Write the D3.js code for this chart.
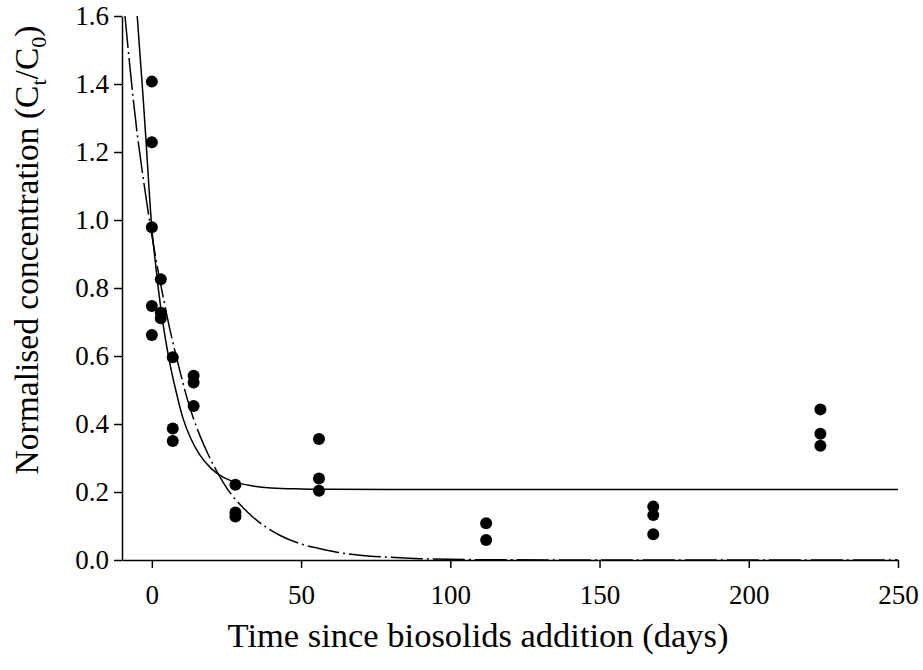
<!DOCTYPE html>
<html>
<head>
<meta charset="utf-8">
<script src="https://cdn.jsdelivr.net/npm/d3@7"></script>
<style>
  body { margin: 0; background: #fff; }
  svg text { font-family: "Liberation Serif", "Times New Roman", serif; fill: #000; }
</style>
</head>
<body>
<div id="chart"></div>
<script>
// measured concentrations (days since addition, Ct/C0)
const sampleDays = [0, 0, 0, 0, 0, 3, 3, 3, 7, 7, 7, 14, 14, 14, 28, 28, 28, 56, 56, 56, 112, 112, 168, 168, 168, 224, 224, 224];
const sampleConc = [1.407, 1.229, 0.979, 0.747, 0.662, 0.826, 0.727, 0.711, 0.596, 0.387, 0.350, 0.542, 0.522, 0.453, 0.221, 0.140, 0.128, 0.356, 0.240, 0.204, 0.108, 0.059, 0.157, 0.132, 0.076, 0.443, 0.371, 0.336];

// fitted curve with plateau (solid)
const solidDays = [-4.9, -4, -3, -2, -1, 0, 1, 2, 3, 4, 6, 8, 10.5, 13, 16, 20, 24, 28, 33, 40, 50, 60, 80, 250];
const solidConc = [1.60, 1.49, 1.37, 1.24, 1.10, 0.975, 0.89, 0.81, 0.74, 0.68, 0.58, 0.50, 0.415, 0.358, 0.31, 0.268, 0.243, 0.229, 0.219, 0.212, 0.209, 0.208, 0.207, 0.207];

// fitted curve decaying to zero (dashed)
const dashDays = [-9, -7, -5, -3, -1, 0, 2, 4, 6, 8, 10, 12, 14, 16, 19, 22, 25, 28, 31, 34, 38, 43, 50, 56, 62, 69, 80, 90, 100, 120, 150, 250];
const dashConc = [1.60, 1.42, 1.26, 1.13, 1.01, 0.955, 0.855, 0.765, 0.68, 0.605, 0.535, 0.47, 0.415, 0.368, 0.308, 0.257, 0.213, 0.178, 0.150, 0.125, 0.098, 0.072, 0.047, 0.034, 0.023, 0.015, 0.008, 0.004, 0.002, 0.0005, 0, 0];

const xTicks = [0, 50, 100, 150, 200, 250];
const yTicks = [0, 0.2, 0.4, 0.6, 0.8, 1.0, 1.2, 1.4, 1.6];

const width = 923;
const height = 670;
const plotLeft = 122, plotRight = 898, plotTop = 16, plotBottom = 560;

const svg = d3.select('#chart')
    .append('svg')
    .attr('width', width)
    .attr('height', height);

const x = d3.scaleLinear().domain([-10, 250]).range([plotLeft, plotRight]);
const y = d3.scaleLinear().domain([0, 1.6]).range([plotBottom, plotTop]);

svg.append('clipPath')
    .attr('id', 'plot-clip')
    .append('rect')
    .attr('x', plotLeft)
    .attr('y', plotTop)
    .attr('width', plotRight - plotLeft)
    .attr('height', plotBottom - plotTop);

// axes
const xAxis = d3.axisBottom(x)
    .tickValues(xTicks)
    .tickFormat(d3.format('d'))
    .tickSize(8)
    .tickSizeOuter(0)
    .tickPadding(17);

const yAxis = d3.axisLeft(y)
    .tickValues(yTicks)
    .tickFormat(d3.format('.1f'))
    .tickSize(8)
    .tickSizeOuter(0)
    .tickPadding(5);

function styleAxis(g) {
    g.attr('font-family', null);
    g.select('.domain').attr('stroke', '#000').attr('stroke-width', 1.5);
    g.selectAll('.tick line').attr('stroke', '#000').attr('stroke-width', 1.5);
    g.selectAll('.tick text')
        .style('font-family', '"Liberation Serif", "Times New Roman", serif')
        .style('font-size', '27px')
        .attr('fill', '#000');
}

svg.append('g')
    .attr('transform', `translate(0,${plotBottom})`)
    .call(xAxis)
    .call(styleAxis);

svg.append('g')
    .attr('transform', `translate(${plotLeft},0)`)
    .call(yAxis)
    .call(styleAxis);

// curves
const lineGen = d3.line()
    .x((d) => x(d[0]))
    .y((d) => y(d[1]))
    .curve(d3.curveMonotoneX);

const curves = svg.append('g').attr('clip-path', 'url(#plot-clip)');

curves.append('path')
    .datum(d3.zip(dashDays, dashConc))
    .attr('fill', 'none')
    .attr('stroke', '#000')
    .attr('stroke-width', 1.5)
    .attr('stroke-dasharray', '32,4,2,4')
    .attr('d', lineGen);

curves.append('path')
    .datum(d3.zip(solidDays, solidConc))
    .attr('fill', 'none')
    .attr('stroke', '#000')
    .attr('stroke-width', 1.5)
    .attr('d', lineGen);

// measured points
svg.append('g')
    .selectAll('circle')
    .data(d3.zip(sampleDays, sampleConc))
    .enter()
    .append('circle')
    .attr('cx', (d) => x(d[0]))
    .attr('cy', (d) => y(d[1]))
    .attr('r', 6)
    .attr('fill', '#000');

// axis titles
svg.append('text')
    .attr('x', 478)
    .attr('y', 647)
    .attr('text-anchor', 'middle')
    .style('font-size', '34.5px')
    .text('Time since biosolids addition (days)');

const yTitle = svg.append('text')
    .attr('transform', 'translate(38,250) rotate(-90)')
    .attr('text-anchor', 'middle')
    .style('font-size', '33.5px');
yTitle.append('tspan').text('Normalised concentration (C');
yTitle.append('tspan').attr('dy', 8).style('font-size', '22px').text('t');
yTitle.append('tspan').attr('dy', -8).text('/C');
yTitle.append('tspan').attr('dy', 8).style('font-size', '22px').text('0');
yTitle.append('tspan').attr('dy', -8).text(')');
</script>
</body>
</html>
